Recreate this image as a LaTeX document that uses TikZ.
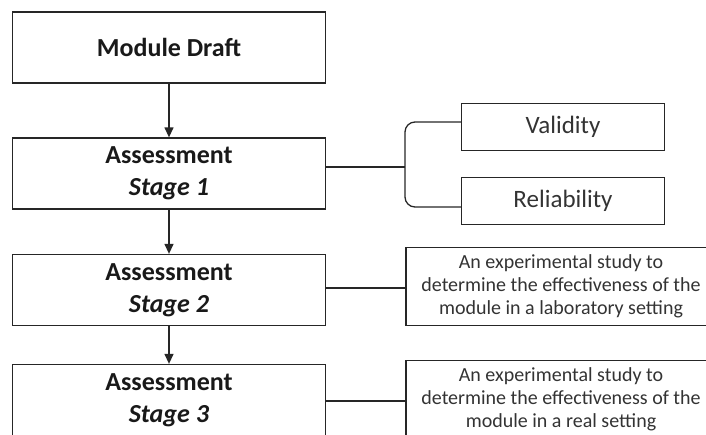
\documentclass[tikz,border=0pt]{standalone}
\usepackage{fontspec}
\setmainfont{Carlito}
\usetikzlibrary{arrows.meta}
\begin{document}
\begin{tikzpicture}[x=1pt,y=-1pt,
  line/.style={draw=black!85, line width=1.3pt},
  arr/.style={line, -{Triangle[length=10pt,width=9pt]}},
  stagebox/.style={line, minimum width=313pt, minimum height=71pt, inner sep=0pt,
    align=center, text=black!90, font=\fontsize{26}{32}\selectfont\bfseries},
  checkbox/.style={line, minimum width=203pt, minimum height=47pt, inner sep=0pt,
    text=black!80, font=\fontsize{25}{30}\selectfont},
  notebox/.style={line, minimum width=310pt, minimum height=78pt, inner sep=0pt,
    align=center, text=black!80, font=\fontsize{20}{23}\selectfont}]
  \clip (0,0) rectangle (706,434);

  % main column
  \node[stagebox] (md) at (169,47.5) {Module Draft};
  \node[stagebox] (s1) at (169,173.5) {Assessment\\\textit{Stage 1}};
  \node[stagebox] (s2) at (169,290) {Assessment\\\textit{Stage 2}};
  \node[stagebox] (s3) at (169,400) {Assessment\\\textit{Stage 3}};

  \draw[arr] (md.south) -- (s1.north);
  \draw[arr] (s1.south) -- (s2.north);
  \draw[arr] (s2.south) -- (s3.north);

  % stage 1 checks
  \node[checkbox] (val) at (563,127) {Validity};
  \node[checkbox] (rel) at (563,201) {Reliability};

  \coordinate (jn) at (405,167);
  \coordinate (ya) at (0,122);
  \coordinate (yb) at (0,207);
  \draw[line] (s1.east |- jn) -- (jn);
  \draw[line, rounded corners=10pt] (val.west |- ya) -| (jn) |- (rel.west |- yb);

  % stage 2 and 3 notes
  \node[notebox] (n2) at (561,286.5) {An experimental study to\\determine the effectiveness of the\\module in a laboratory setting};
  \node[notebox] (n3) at (561,399.5) {An experimental study to\\determine the effectiveness of the\\module in a real setting};

  \draw[line] (s2.east |- 0,288) -- (n2.west |- 0,288);
  \draw[line] (s3.east |- 0,401) -- (n3.west |- 0,401);
\end{tikzpicture}
\end{document}
